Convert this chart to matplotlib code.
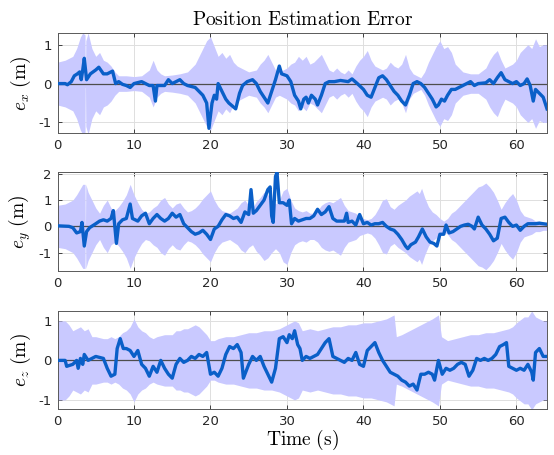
import matplotlib
matplotlib.use("Agg")
import matplotlib.pyplot as plt
import numpy as np

plt.rcParams['mathtext.fontset'] = 'cm'
plt.rcParams['font.family'] = 'DejaVu Sans'
plt.rcParams['axes.unicode_minus'] = False

# erro em x
t_ex = [0, 1.0, 1.3, 1.8, 2.2, 2.6, 2.9, 3.1, 3.3, 3.5, 3.8, 4.3, 5.0, 5.4, 6.0, 6.5, 7.2, 7.6, 8.0, 8.5,
        9.0, 9.5, 10.0, 11.0, 12.0, 12.5, 12.8, 13.0, 14.0, 14.5, 15.0, 16.0, 16.5, 17.0, 18.0, 18.5, 19.0,
        19.5, 19.8, 20.2, 20.5, 20.8, 21.0, 21.5, 22.0, 22.4, 23.0, 23.3, 23.8, 24.2, 24.8, 25.5, 26.0, 26.5,
        27.0, 27.5, 28.0, 28.5, 29.0, 29.3, 30.0, 30.5, 31.0, 31.5, 31.8, 32.2, 32.5, 32.8, 33.2, 33.7, 34.0,
        34.5, 35.0, 35.5, 36.2, 37.0, 38.0, 38.5, 39.2, 40.0, 40.5, 41.0, 41.5, 42.0, 42.5, 43.0, 43.5, 44.0,
        44.5, 45.0, 45.5, 46.0, 46.5, 47.0, 47.5, 48.0, 48.5, 49.0, 49.5, 49.8, 50.2, 50.6, 51.0, 51.5, 52.0,
        52.5, 53.0, 53.5, 54.0, 54.5, 55.0, 56.0, 56.5, 57.0, 57.5, 58.0, 58.5, 59.0, 59.5, 60.0, 60.5, 61.0,
        61.4, 61.8, 62.2, 62.5, 63.0, 63.5, 64.0]
ex = [0, 0.0, -0.03, 0.05, 0.2, 0.25, 0.3, 0.1, 0.35, 0.65, 0.1, 0.25, 0.35, 0.42, 0.25, 0.25, 0.32, 0.0, 0.05, -0.02,
      -0.05, -0.1, 0.0, 0.05, -0.05, -0.05, -0.45, -0.05, -0.05, 0.1, 0.0, 0.1, 0.0, -0.05, -0.1, -0.2, -0.3,
      -0.5, -1.15, -0.5, -0.3, -0.4, 0.0, -0.2, -0.4, -0.5, -0.6, -0.65, -0.25, -0.05, 0.05, 0.1, 0.0, -0.2,
      -0.35, -0.5, -0.2, 0.1, 0.45, 0.25, 0.2, 0.05, -0.3, -0.45, -0.65, -0.4, -0.35, -0.5, -0.3, -0.4, -0.55,
      -0.3, 0.0, 0.05, 0.05, 0.08, 0.05, 0.12, 0.0, -0.15, -0.3, -0.35, -0.1, 0.15, 0.2, 0.1, -0.05, -0.2,
      -0.3, -0.45, -0.55, -0.3, 0.0, 0.05, 0.0, -0.1, -0.25, -0.4, -0.6, -0.55, -0.4, -0.45, -0.3, -0.15, -0.15,
      -0.1, -0.05, 0.0, 0.05, -0.05, 0.0, 0.02, 0.1, 0.0, 0.15, 0.28, 0.1, 0.05, 0.0, 0.05, -0.05, 0.0,
      0.12, -0.05, -0.45, -0.15, -0.25, -0.35, -0.65]

# 3 sigma em x
t_sx = [0, 1, 2, 2.5, 3, 3.3, 3.6, 3.63, 3.66, 3.7, 4.0, 4.5, 5, 5.5, 6, 6.5, 7, 7.5, 8, 9, 10, 11, 12, 12.5,
        13, 13.5, 14, 15, 16, 17, 18, 18.5, 19, 19.5, 20, 20.5, 21, 21.5, 22, 22.5, 23, 23.5, 24, 25, 26,
        26.5, 27, 27.5, 28, 28.5, 29, 29.5, 30, 30.5, 31, 31.5, 32, 32.5, 33, 33.5, 34, 34.5, 35, 35.5, 36,
        36.5, 37, 37.5, 38, 38.5, 39, 39.5, 40, 40.5, 41, 41.5, 42, 42.5, 43, 43.5, 44, 44.5, 45, 45.5, 46,
        46.5, 47, 47.5, 48, 48.5, 49, 49.5, 50, 50.5, 51, 51.5, 52, 52.5, 53, 54, 55, 56, 56.5, 57, 57.5,
        58, 58.5, 59, 59.5, 60, 60.5, 61, 61.5, 62, 62.5, 63, 63.5, 64]
sx = [0.55, 0.6, 0.7, 0.9, 1.2, 1.3, 1.25, 0.1, 0.1, 1.1, 1.3, 0.9, 0.7, 0.8, 0.6, 0.55, 0.45, 0.3, 0.2, 0.2, 0.18, 0.2, 0.35, 0.6,
      0.35, 0.25, 0.2, 0.22, 0.25, 0.3, 0.5, 0.7, 0.9, 1.1, 1.2, 0.95, 0.7, 0.8, 0.65, 0.75, 0.55, 0.45, 0.4, 0.3, 0.35,
      0.5, 0.6, 0.75, 0.55, 0.35, 0.3, 0.35, 0.4, 0.5, 0.55, 0.7, 0.6, 0.7, 0.5, 0.55, 0.65, 0.75, 0.55, 0.35, 0.3,
      0.4, 0.3, 0.25, 0.35, 0.25, 0.45, 0.6, 0.7, 0.85, 0.6, 0.45, 0.4, 0.35, 0.4, 0.55, 0.45, 0.4, 0.5, 0.75, 0.4,
      0.25, 0.2, 0.15, 0.3, 0.55, 0.75, 0.95, 1.1, 0.9, 0.95, 0.8, 0.5, 0.4, 0.3, 0.25, 0.25, 0.4, 0.6, 0.75, 0.85,
      0.6, 0.4, 0.45, 0.5, 0.6, 0.8, 0.9, 1.0, 0.9, 1.15, 0.95, 1.0, 1.0]

# erro em y
t_ey = [0, 1.5, 2.0, 2.5, 3.0, 3.2, 3.5, 3.8, 4.2, 5.0, 5.5, 6.0, 6.5, 7.0, 7.3, 7.7, 8.0, 8.5, 9.0, 9.5, 9.8,
        10.5, 11.0, 11.5, 12.0, 12.5, 13.0, 13.5, 14.0, 14.5, 15.0, 15.5, 16.0, 16.5, 17.0, 17.5, 18.0, 18.5,
        19.0, 19.5, 20.0, 20.5, 21.0, 21.5, 22.0, 22.5, 23.0, 23.5, 24.0, 24.5, 25.0, 25.3, 25.6, 26.0, 26.5,
        27.0, 27.5, 27.8, 28.0, 28.2, 28.5, 28.7, 29.0, 29.5, 30.0, 30.3, 30.6, 31.0, 31.5, 32.0, 32.5, 33.0,
        33.5, 34.0, 34.5, 35.0, 35.5, 36.0, 36.5, 37.0, 37.5, 37.8, 38.0, 38.5, 39.0, 39.5, 40.0, 40.5, 41.0,
        41.5, 42.0, 42.5, 43.0, 43.5, 44.0, 44.5, 45.0, 45.5, 45.8, 46.2, 46.8, 47.2, 47.7, 48.2, 48.7, 49.2,
        49.6, 50.0, 50.5, 50.8, 51.2, 51.7, 52.2, 52.7, 53.2, 53.7, 54.2, 54.5, 55.0, 55.5, 56.0, 56.5, 57.0,
        57.5, 58.0, 58.5, 59.0, 59.5, 60.0, 60.5, 61.0, 61.5, 62.0, 62.5, 63.0, 63.5, 64.0]
ey = [0.02, 0.0, -0.05, -0.25, -0.2, 0.15, -0.75, -0.2, -0.05, 0.1, 0.2, 0.25, 0.2, 0.3, 0.6, -0.65, 0.1, 0.25, 0.3, 0.85, 0.3,
      0.2, 0.4, 0.5, 0.1, 0.3, 0.45, 0.3, 0.2, 0.3, 0.5, 0.35, 0.45, 0.1, -0.05, -0.2, -0.3, -0.25,
      -0.15, -0.3, -0.5, -0.1, 0.0, 0.25, 0.45, 0.4, 0.3, 0.35, 0.15, 0.55, 0.45, 1.4, 0.5, 0.6, 0.8,
      1.0, 1.4, 1.5, 0.4, 0.15, 1.9, 2.05, 0.9, 0.9, 0.8, 1.0, 0.1, 0.3, 0.2, 0.25, 0.3, 0.3,
      0.4, 0.65, 0.45, 0.55, 0.75, 0.3, 0.2, 0.2, 0.2, 0.5, 0.15, 0.2, 0.05, 0.45, 0.1, 0.15, 0.05,
      0.1, 0.1, 0.15, 0.0, -0.1, -0.15, -0.3, -0.5, -0.75, -0.85, -0.7, -0.6, -0.4, -0.1, -0.4, -0.6, -0.65,
      -0.75, -0.3, -0.3, 0.05, -0.25, -0.2, -0.1, 0.0, 0.05, 0.08, 0.0, -0.1, 0.35, 0.05, -0.1, -0.3, -0.55,
      -0.45, 0.3, 0.35, 0.15, 0.0, 0.05, -0.15, 0.0, 0.1, 0.1, 0.1, 0.12, 0.1, 0.08]

t_sy = [0, 1, 2, 2.5, 3, 3.3, 3.6, 3.63, 3.66, 3.7, 4, 4.5, 5, 5.5, 6, 6.5, 7, 7.5, 8, 8.5, 9, 9.5, 10, 10.5,
        11, 11.5, 12, 12.5, 13, 13.5, 14, 14.5, 15, 15.5, 16, 16.5, 17, 17.5, 18, 18.5, 19, 19.5, 20, 20.5,
        21, 21.5, 22, 22.5, 23, 23.5, 24, 24.5, 25, 25.5, 26, 26.5, 27, 27.5, 28, 28.5, 29, 29.5, 30, 30.5,
        31, 31.5, 32, 32.5, 33, 33.5, 34, 34.5, 35, 35.5, 36, 36.5, 37, 37.5, 38, 38.5, 39, 39.5, 40, 40.5,
        41, 41.5, 42, 42.5, 43, 43.5, 44, 44.5, 45, 45.5, 46, 46.5, 47, 47.3, 47.6, 48, 48.5, 49, 49.5, 50,
        50.5, 51, 51.5, 52, 52.5, 53, 53.5, 54, 54.5, 55, 55.5, 56, 56.5, 57, 57.5, 58, 58.5, 59, 59.5, 60,
        60.5, 61, 61.5, 62, 62.5, 63, 63.5, 64]
sy = [0.8, 0.85, 1.0, 1.2, 1.45, 1.6, 1.6, 0.1, 0.1, 1.6, 1.3, 1.0, 0.7, 0.5, 0.8, 1.0, 0.7, 0.6, 0.75, 0.95, 1.2, 1.6, 1.2, 0.9,
      0.65, 0.5, 0.55, 0.7, 0.8, 1.0, 1.1, 0.85, 0.7, 0.85, 0.9, 0.7, 0.55, 0.6, 0.7, 0.85, 1.05, 1.2, 1.35, 1.0,
      0.75, 0.6, 0.55, 0.5, 0.6, 0.7, 0.9, 1.0, 0.8, 0.7, 0.95, 1.1, 1.3, 1.2, 1.0, 0.85, 1.0, 1.35, 1.45, 1.0,
      0.7, 0.6, 0.55, 0.6, 0.5, 0.5, 0.6, 0.8, 0.9, 0.95, 0.9, 1.0, 1.1, 0.8, 0.6, 0.55, 0.5, 0.35, 0.3, 0.25,
      0.3, 0.45, 0.7, 1.0, 1.05, 0.75, 0.65, 0.8, 0.9, 1.0, 1.15, 1.25, 1.35, 1.25, 1.45, 1.1, 0.75, 0.55, 0.45, 0.3,
      0.2, 0.3, 0.5, 0.6, 0.75, 0.9, 1.05, 1.2, 1.35, 1.5, 1.55, 1.65, 1.5, 1.3, 1.0, 0.65, 0.9, 1.1, 1.25, 1.0,
      0.6, 0.4, 0.35, 0.3, 0.2, 0.2, 0.15, 0.15]

# erro em z
t_ez = [0, 1.0, 1.2, 2.0, 2.5, 2.7, 3.0, 3.3, 3.5, 4.0, 4.5, 5.0, 6.0, 6.5, 7.0, 7.5, 7.8, 8.2, 8.6, 9.0, 9.5,
        10.0, 10.5, 11.0, 11.5, 12.0, 12.5, 13.0, 13.5, 14.0, 14.5, 15.0, 15.5, 16.0, 16.5, 17.0, 17.5, 18.0,
        18.5, 19.0, 19.5, 20.0, 20.5, 21.0, 21.5, 22.0, 22.5, 23.0, 23.5, 24.0, 24.3, 24.7, 25.0, 25.5, 26.0,
        26.5, 27.0, 27.5, 28.0, 28.5, 29.0, 29.5, 30.0, 30.3, 30.7, 31.0, 31.4, 31.7, 32.0, 32.5, 33.0, 33.5,
        34.0, 34.5, 35.0, 35.5, 36.0, 36.5, 37.0, 37.5, 38.0, 38.5, 39.0, 39.5, 40.0, 40.5, 41.0, 41.5, 42.0,
        42.5, 43.0, 43.5, 44.0, 44.5, 45.0, 45.5, 46.0, 46.5, 47.0, 47.5, 48.0, 48.5, 49.0, 49.3, 49.8, 50.3,
        50.8, 51.3, 51.8, 52.3, 52.8, 53.3, 53.8, 54.3, 54.8, 55.3, 55.8, 56.3, 56.8, 57.3, 57.8, 58.3, 58.7,
        59.0, 59.5, 60.0, 60.5, 61.0, 61.5, 62.0, 62.2, 62.5, 63.0, 63.5, 64.0]
ez = [0.0, 0.0, -0.15, -0.1, 0.0, -0.2, 0.05, -0.1, 0.15, 0.0, 0.05, 0.1, 0.05, -0.2, -0.4, -0.35, 0.3, 0.55, 0.3, 0.3, 0.25,
      0.1, 0.25, -0.1, -0.2, -0.4, -0.15, -0.3, 0.0, -0.2, -0.35, -0.45, -0.1, 0.05, -0.05, 0.0, 0.1, 0.05,
      0.15, 0.1, 0.2, -0.35, -0.3, -0.4, -0.2, 0.15, 0.35, 0.3, 0.4, 0.2, -0.45, -0.25, -0.1, 0.1, 0.0,
      0.1, -0.15, -0.35, -0.55, -0.2, 0.55, 0.6, 0.45, 0.65, 0.55, 0.75, 0.4, 0.3, 0.0, 0.1, 0.05, 0.1,
      0.15, 0.3, 0.45, 0.55, 0.1, 0.05, 0.0, -0.05, 0.05, 0.0, 0.2, -0.1, -0.15, 0.25, 0.35, 0.45, 0.2,
      0.0, -0.15, -0.3, -0.35, -0.4, -0.5, -0.55, -0.65, -0.6, -0.75, -0.35, -0.35, -0.3, -0.35, -0.5, 0.0, -0.35,
      -0.2, -0.25, -0.2, -0.1, -0.05, -0.1, -0.4, -0.25, 0.05, 0.0, 0.05, 0.0, 0.05, 0.15, 0.35, 0.4, 0.45,
      -0.15, -0.2, -0.25, -0.2, -0.25, -0.1, -0.3, -0.5, 0.2, 0.3, 0.1, 0.1]

t_sz = [0, 1, 1.5, 2, 2.5, 3, 3.5, 4, 4.5, 5, 6, 6.5, 7, 7.5, 8, 8.5, 9, 9.5, 10, 10.5, 11, 11.5, 12, 12.5, 13,
        14, 15, 15.5, 16, 16.5, 17, 17.5, 18, 18.5, 19, 19.5, 20, 20.5, 21, 22, 23, 24, 25, 26, 27, 28, 29,
        30, 31, 31.5, 32, 33, 34, 35, 36, 37, 38, 39, 40, 41, 42, 43, 44, 44.3, 45, 46, 47, 48, 49, 49.8,
        50.2, 51, 52, 53, 54, 55, 56, 57, 58, 59, 59.5, 60, 61, 61.5, 62, 62.5, 63, 63.5, 64]
sz = [1.0, 1.0, 0.9, 0.75, 0.8, 0.85, 0.75, 0.8, 0.6, 0.6, 0.55, 0.55, 0.6, 0.55, 0.6, 0.7, 0.75, 0.85, 1.05, 0.85, 0.75, 0.7, 0.6, 0.55, 0.6,
      0.65, 0.65, 0.75, 0.75, 0.8, 0.8, 0.85, 0.9, 0.85, 0.75, 0.65, 0.5, 0.5, 0.55, 0.6, 0.6, 0.65, 0.7, 0.7, 0.75, 0.75, 0.8,
      0.9, 1.0, 0.95, 0.75, 0.8, 0.75, 0.8, 0.85, 0.85, 0.9, 0.9, 0.95, 0.95, 1.0, 1.05, 1.15, 0.6, 0.65, 0.75, 0.85, 0.95, 1.05, 1.15,
      0.6, 0.5, 0.55, 0.6, 0.65, 0.65, 0.7, 0.7, 0.75, 0.8, 0.85, 0.95, 1.1, 1.1, 1.25, 1.1, 1.05, 1.0, 1.0]

paineis = [
    (t_ex, ex, t_sx, sx, r'$e_x\ \mathrm{(m)}$', (-1.27, 1.3), [-1, 0, 1]),
    (t_ey, ey, t_sy, sy, r'$e_y\ \mathrm{(m)}$', (-1.7, 2.07), [-1, 0, 1, 2]),
    (t_ez, ez, t_sz, sz, r'$e_z\ \mathrm{(m)}$', (-1.23, 1.25), [-1, 0, 1]),
]

fig = plt.figure(figsize=(5.54, 4.55), dpi=100)
posicoes = [[0.1038, 0.7077, 0.8836, 0.2198],
            [0.1038, 0.4044, 0.8836, 0.2176],
            [0.1038, 0.1011, 0.8836, 0.2154]]

cor_linha = '#0a5fc8'
cor_banda = '#c9c9ff'

for i, (t, e, ts, s, rotulo, ylim, yt) in enumerate(paineis):
    ax = fig.add_axes(posicoes[i])
    s = np.array(s)
    ax.fill_between(ts, -s, s, color=cor_banda, linewidth=0, zorder=1)
    ax.axhline(0, color='0.3', linewidth=0.9, zorder=2)
    ax.plot(t, e, color=cor_linha, linewidth=2.4, zorder=3)
    ax.set_xlim(0, 64)
    ax.set_ylim(*ylim)
    ax.set_xticks([0, 10, 20, 30, 40, 50, 60])
    ax.set_yticks(yt)
    ax.grid(True, color='0.87', linewidth=0.7)
    ax.set_axisbelow(True)
    ax.tick_params(direction='in', length=3, width=0.6, top=True, right=True,
                   labelsize=9.5, colors='0.15', pad=4)
    for sp in ax.spines.values():
        sp.set_color('0.35')
        sp.set_linewidth(0.7)
    ax.set_ylabel(rotulo, fontsize=14, labelpad=4)
    if i == 0:
        ax.set_title(r'$\mathrm{Position\ Estimation\ Error}$', fontsize=14, pad=6)
    if i == 2:
        ax.set_xlabel(r'$\mathrm{Time\ (s)}$', fontsize=14, labelpad=0)

fig.savefig('out.png', dpi=100)
